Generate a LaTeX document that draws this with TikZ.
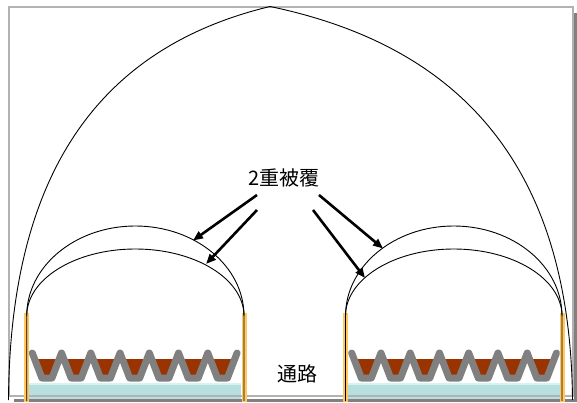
\documentclass[tikz,border=0pt]{standalone}
\usepackage{fontspec}
\newfontfamily\jpfont{Noto Sans CJK JP}
\usetikzlibrary{arrows.meta}
\definecolor{postorange}{RGB}{255,200,100}
\definecolor{soil}{RGB}{153,51,0}
\definecolor{potgray}{RGB}{128,128,128}
\definecolor{floorblue}{RGB}{183,223,224}
\definecolor{floortop}{RGB}{214,242,242}
\definecolor{framegray}{RGB}{178,178,178}
\definecolor{shadowgray}{RGB}{128,128,128}

% one bench of pots: first rim at x = #1, seven pots
\newcommand\plantbed[1]{%
  \foreach \k in {0,...,6}{
    \fill[soil] ({#1+\k*29.25+2.3},359) -- ({#1+(\k+1)*29.25-2.3},359)
      -- ({#1+(\k+1)*29.25-9.6},378) -- ({#1+\k*29.25+9.6},378) -- cycle;
  }
  \draw[potline] (#1,353) \foreach \k in {0,...,6}{
      -- ({#1+\k*29.25+9.6},378) -- ({#1+(\k+1)*29.25-9.6},378)
      -- ({#1+(\k+1)*29.25},353) };
}

\begin{document}
\begin{tikzpicture}[x=1pt,y=-1pt,
  archline/.style={black,line width=0.9pt},
  potline/.style={potgray,line width=7pt,line cap=round,line join=round},
  postbar/.style={fill=postorange},
  floorstrip/.style={fill=floorblue},
  pointer/.style={black,line width=2.6pt,-{Triangle[length=10pt,width=8pt]}},
  jplabel/.style={font=\jpfont\fontsize{20}{24}\selectfont,inner sep=0pt}]
\useasboundingbox (0,0) rectangle (577,403);

% frame with drop shadow
\fill[shadowgray] (14,13) rectangle (577,401.5);
\fill[white] (8.5,7.5) rectangle (574.3,399);

% floor strips under the benches
\fill[floorstrip] (29,383) rectangle (241,398.5);
\fill[floortop] (29,383) rectangle (241,385);
\fill[floorstrip] (346.7,383) rectangle (560,398.5);
\fill[floortop] (346.7,383) rectangle (560,385);

\draw[framegray,line width=2pt] (8.5,7.5) rectangle (572.5,395.5);

% outer house
\coordinate (baseL) at (8.5,400);
\coordinate (apex) at (270,6.5);
\coordinate (baseR) at (572.5,400);
\draw[archline] (baseL) .. controls (10,160) and (110,45) .. (apex)
  .. controls (454.8,45) and (570.3,160) .. (baseR);

% posts of the inner tunnels
\foreach \px in {26.7,244,345.5,562}
  \fill[postorange] (\px-2.5,313) rectangle (\px+2.5,401.5);

% inner tunnels, double film
\draw[archline] (26.7,401) -- (26.7,316)
  arc[start angle=180,end angle=360,x radius=108.65,y radius=90] -- (244,401);
\draw[archline] (26.7,316)
  arc[start angle=180,end angle=360,x radius=108.65,y radius=67];
\draw[archline] (345.5,401) -- (345.5,316)
  arc[start angle=180,end angle=360,x radius=108.25,y radius=90] -- (562,401);
\draw[archline] (345.5,316)
  arc[start angle=180,end angle=360,x radius=108.25,y radius=67];

% benches
\plantbed{32.3}
\plantbed{351.7}

% labels
\node[jplabel] (film) at (284,178) {2重被覆};
\node[jplabel] (aisle) at (297,374) {通路};

% pointers to the two film layers
\coordinate (tailA) at (257,195);
\coordinate (tipA) at (193,240.5);
\coordinate (tailB) at (257,210);
\coordinate (tipB) at (206,264);
\coordinate (tailC) at (319,195);
\coordinate (tipC) at (383,248.5);
\coordinate (tailD) at (313,210);
\coordinate (tipD) at (365,278);
\draw[pointer] (tailA) -- (tipA);
\draw[pointer] (tailB) -- (tipB);
\draw[pointer] (tailC) -- (tipC);
\draw[pointer] (tailD) -- (tipD);
\end{tikzpicture}
\end{document}
